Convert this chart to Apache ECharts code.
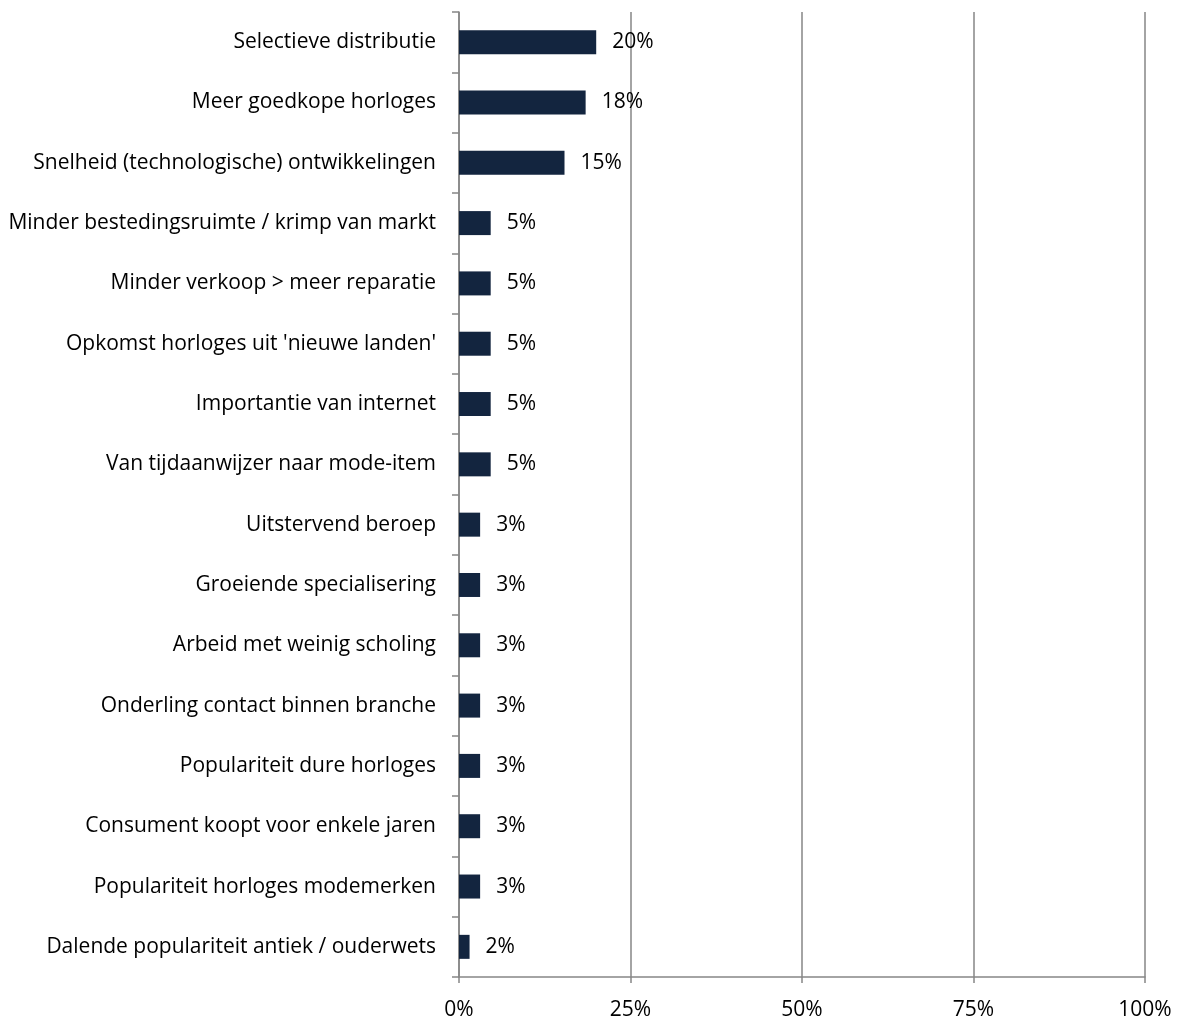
<!DOCTYPE html>
<html>
<head>
<meta charset="utf-8">
<script src="https://cdn.jsdelivr.net/npm/echarts@6/dist/echarts.min.js"></script>
<style>html,body{margin:0;padding:0;background:#fff;}#chart{width:1179px;height:1021px;}</style>
</head>
<body>
<div id="chart"></div>
<script>
const categories = [
  "Selectieve distributie",
  "Meer goedkope horloges",
  "Snelheid (technologische) ontwikkelingen",
  "Minder bestedingsruimte / krimp van markt",
  "Minder verkoop > meer reparatie",
  "Opkomst horloges uit 'nieuwe landen'",
  "Importantie van internet",
  "Van tijdaanwijzer naar mode-item",
  "Uitstervend beroep",
  "Groeiende specialisering",
  "Arbeid met weinig scholing",
  "Onderling contact binnen branche",
  "Populariteit dure horloges",
  "Consument koopt voor enkele jaren",
  "Populariteit horloges modemerken",
  "Dalende populariteit antiek / ouderwets"
];
const values = [20.0, 18.46, 15.38, 4.62, 4.62, 4.62, 4.62, 4.62, 3.08, 3.08, 3.08, 3.08, 3.08, 3.08, 3.08, 1.54];
const xTicks = [0, 25, 50, 75, 100];

const FONT = "'Open Sans', sans-serif";
const chart = echarts.init(document.getElementById('chart'), null, {renderer: 'canvas'});
chart.setOption({
  animation: false,
  grid: {left: 459, right: 34, top: 12, bottom: 42, containLabel: false},
  xAxis: {
    type: 'value', min: xTicks[0], max: xTicks[xTicks.length - 1], interval: 25,
    axisLine: {show: true, lineStyle: {color: '#868686', width: 1.5}},
    axisTick: {show: true, length: 6, lineStyle: {color: '#868686', width: 1.5}},
    splitLine: {show: true, lineStyle: {color: '#868686', width: 1.5}},
    axisLabel: {formatter: '{value}%', color: '#000', fontSize: 21, fontFamily: FONT, margin: 23}
  },
  yAxis: {
    type: 'category', data: categories, inverse: true,
    axisLine: {show: true, lineStyle: {color: '#868686', width: 1.5}},
    axisTick: {show: true, length: 7, lineStyle: {color: '#868686', width: 1.5}},
    axisLabel: {color: '#000', fontSize: 21, fontFamily: FONT, margin: 23, padding: [0, 0, 4, 0]}
  },
  series: [{
    type: 'bar', data: values, barWidth: 24,
    itemStyle: {color: '#13253f'},
    label: {show: true, position: 'right', distance: 16, color: '#000', fontSize: 21, fontFamily: FONT,
      padding: [0, 0, 4, 0], formatter: p => Math.round(p.value) + '%'}
  }]
});
</script>
</body>
</html>
